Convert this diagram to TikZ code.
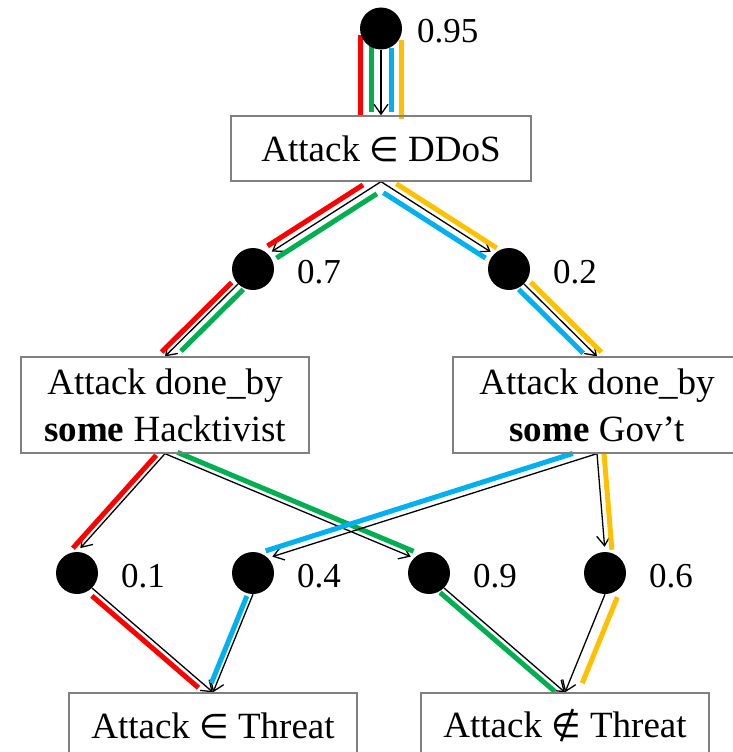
\documentclass[tikz,border=0pt]{standalone}
\usepackage{fontspec}
\setmainfont{Liberation Serif}
\newfontfamily\symfont{DejaVu Sans}
\usetikzlibrary{arrows.meta,calc,backgrounds}

\definecolor{laneRed}{HTML}{FF0000}
\definecolor{laneGreen}{HTML}{00B050}
\definecolor{laneBlue}{HTML}{00B0F0}
\definecolor{laneYellow}{HTML}{FFC000}
\definecolor{boxgray}{HTML}{808080}

% set-membership signs
\newcommand\isin{{\symfont\fontsize{34}{40}\selectfont ∈}}
\newcommand\notisin{{\symfont\fontsize{34}{40}\selectfont ∉}}

\tikzset{
  chance/.style={circle,fill=black,minimum size=42pt,inner sep=0pt},
  stmt/.style={draw=boxgray,line width=1.3pt,minimum width=288pt,align=center,
    inner sep=0pt,font=\fontsize{37}{47}\selectfont},
  val/.style={inner sep=0pt,anchor=base west,font=\fontsize{35}{42}\selectfont},
  arr/.style={line width=1.3pt,-{Straight Barb[length=10pt,width=14pt]}},
  lane/.style={line width=5pt},
}

% coloured path drawn parallel to the connector #1 -> #2
% #3 side offset, #4 colour, #5/#6 trimming at start/end
\newcommand\laneline[6]{%
  \draw[lane,#4,shorten <=#5,shorten >=#6]
    ($(#1)!#3!90:(#2)$) -- ($(#2)!#3!-90:(#1)$);}

\begin{document}
\begin{tikzpicture}[x=1pt,y=-1pt]
\path[use as bounding box,clip] (0,0) rectangle (733,752);

% chance nodes and statements
\node[chance] (p95) at (381,28.5) {};
\node[val] (l95) at ($(p95)+(36,14.5)$) {0.95};
\node[stmt,minimum width=300pt,minimum height=65pt] (ddos) at (381,148.5) {Attack \isin\ DDoS};

\node[chance] (p7) at (253,269) {};
\node[val] (l7) at ($(p7)+(44,14)$) {0.7};
\node[chance] (p2) at (509,269) {};
\node[val] (l2) at ($(p2)+(44,14)$) {0.2};

\node[stmt,minimum height=96pt] (hack) at (165,405) {Attack done\_by\\\textbf{some} Hacktivist};
\node[stmt,minimum height=96pt] (gov) at (597,405) {Attack done\_by\\\textbf{some} Gov’t};

\node[chance] (p1) at (77,573) {};
\node[val] (l1) at ($(p1)+(44,14)$) {0.1};
\node[chance] (p4) at (253,573) {};
\node[val] (l4) at ($(p4)+(44,14)$) {0.4};
\node[chance] (p9) at (429,573) {};
\node[val] (l9) at ($(p9)+(44,14)$) {0.9};
\node[chance] (p6) at (605,573) {};
\node[val] (l6) at ($(p6)+(44,14)$) {0.6};

\node[stmt,minimum height=65pt] (thrA) at (213,725.5) {Attack \isin\ Threat};
\node[stmt,minimum height=65pt] (thrB) at (565,725.5) {Attack \notisin\ Threat};

\begin{pgfonlayer}{background}
% root -> DDoS
\draw[arr] (p95.south) -- (ddos.north);
\laneline{p95.south}{ddos.north}{-21pt}{laneRed}{-14.5pt}{-1pt}
\laneline{p95.south}{ddos.north}{-10pt}{laneGreen}{-3.5pt}{3pt}
\laneline{p95.south}{ddos.north}{10pt}{laneBlue}{-1.5pt}{3pt}
\laneline{p95.south}{ddos.north}{20pt}{laneYellow}{-9.5pt}{-4pt}

% DDoS -> 0.7 / 0.2
\draw[arr,shorten >=4.5pt] (ddos.south) -- (p7.north east);
\laneline{ddos.south}{p7.north east}{-7pt}{laneRed}{17pt}{4pt}
\laneline{ddos.south}{p7.north east}{8pt}{laneGreen}{10pt}{5pt}
\draw[arr,shorten >=4pt] (ddos.south) -- (p2.north west);
\laneline{ddos.south}{p2.north west}{-8pt}{laneBlue}{8pt}{5pt}
\laneline{ddos.south}{p2.north west}{6.5pt}{laneYellow}{14pt}{1pt}

% 0.7 -> Hacktivist, 0.2 -> Gov't
\draw[arr] (p7.south west) -- (hack.north);
\laneline{p7.south west}{hack.north}{-5.5pt}{laneRed}{3.5pt}{0.7pt}
\laneline{p7.south west}{hack.north}{7.5pt}{laneGreen}{0pt}{15pt}
\draw[arr] (p2.south east) -- (gov.north);
\laneline{p2.south east}{gov.north}{-7.5pt}{laneBlue}{0pt}{12pt}
\laneline{p2.south east}{gov.north}{6pt}{laneYellow}{3.5pt}{0pt}

% Hacktivist -> 0.1 / 0.9
\draw[arr,shorten >=5pt] (hack.south) -- (p1.north);
\laneline{hack.south}{p1.north}{-5.5pt}{laneRed}{7pt}{0pt}
\draw[arr,shorten >=3.5pt] (hack.south) -- (p9.north west);
\laneline{hack.south}{p9.north west}{6pt}{laneGreen}{11pt}{3pt}

% Gov't -> 0.4 / 0.6
\draw[arr,shorten >=4.5pt] (gov.south) -- (p4.north east);
\laneline{gov.south}{p4.north east}{-7.5pt}{laneBlue}{23pt}{0pt}
\draw[arr,shorten >=5pt] (gov.south) -- (p6.north);
\laneline{gov.south}{p6.north}{7pt}{laneYellow}{0pt}{1.5pt}

% outcomes
\draw[arr] (p1.south east) -- (thrA.north);
\laneline{p1.south east}{thrA.north}{-6pt}{laneRed}{5pt}{14pt}
\draw[arr] (p4.south) -- (thrA.north);
\laneline{p4.south}{thrA.north}{-5pt}{laneBlue}{4pt}{8pt}
\draw[arr] (p9.south east) -- (thrB.north);
\laneline{p9.south east}{thrB.north}{-6pt}{laneGreen}{0pt}{8pt}
\draw[arr] (p6.south) -- (thrB.north);
\laneline{p6.south}{thrB.north}{12.5pt}{laneYellow}{-2pt}{15pt}
\end{pgfonlayer}
\end{tikzpicture}
\end{document}
